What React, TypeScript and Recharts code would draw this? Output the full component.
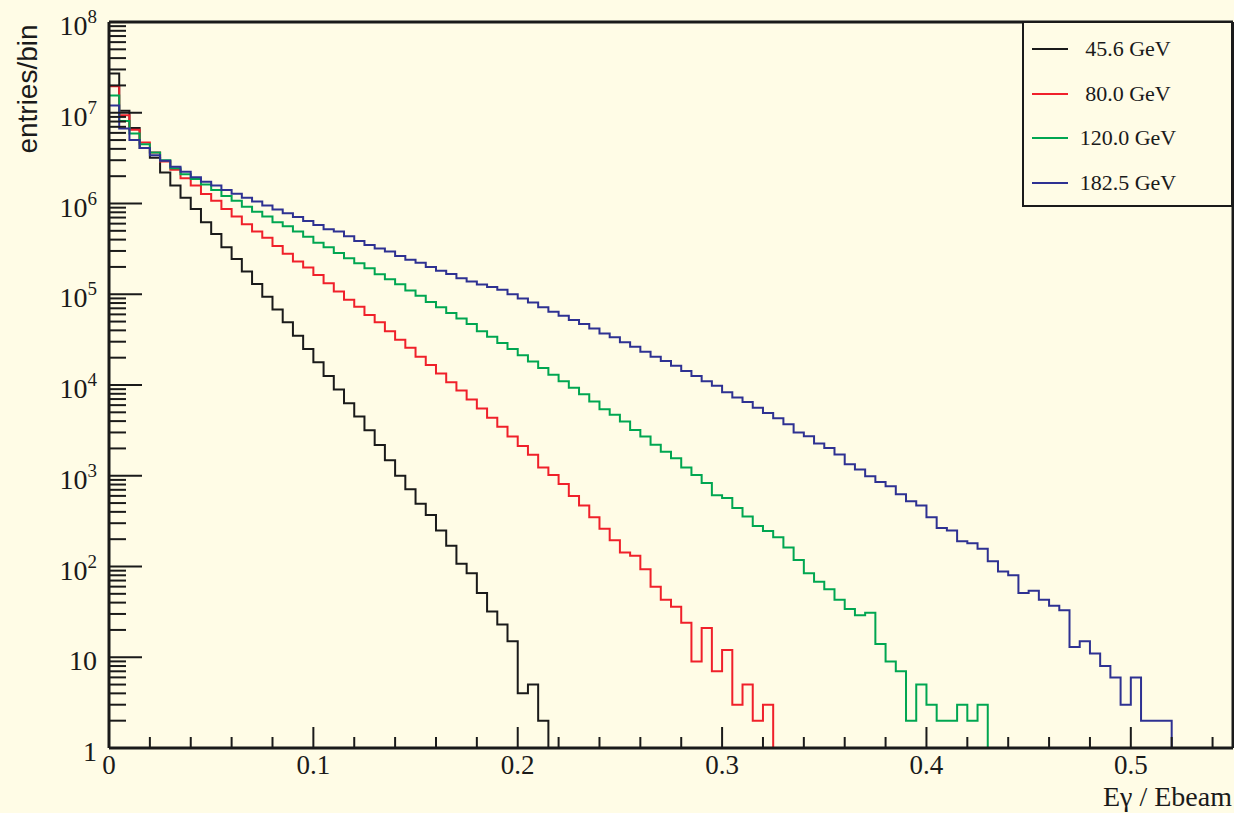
import React from 'react';
import { LineChart, Line, XAxis, YAxis, Legend, ReferenceLine } from 'recharts';

// page / frame colours
const BG = '#fffce6';
const INK = '#1a1a1a';

const BIN_WIDTH = 0.005;

// counts per bin of width 0.005
const COUNTS_45 = [
  2.7e7, 1.05e7, 6.8e6, 4.1e6, 3.2e6, 2.2e6, 1.58e6, 1.16e6, 8.7e5, 6.2e5,
  4.6e5, 3.3e5, 2.45e5, 1.78e5, 1.3e5, 9.4e4, 6.8e4, 4.9e4, 3.5e4, 2.5e4,
  1.78e4, 1.26e4, 8.9e3, 6.3e3, 4.5e3, 3.17e3, 2.18e3, 1.48e3, 1.0e3, 710,
  490, 370, 250, 169, 107, 84, 51, 32, 23, 15,
  4, 5, 2,
];

const COUNTS_80 = [
  1.96e7, 9.4e6, 6.5e6, 4.7e6, 3.65e6, 2.9e6, 2.35e6, 1.9e6, 1.58e6, 1.27e6,
  1.07e6, 8.7e5, 7.2e5, 5.9e5, 4.9e5, 4.2e5, 3.4e5, 2.8e5, 2.3e5, 1.97e5,
  1.63e5, 1.32e5, 1.07e5, 8.7e4, 7.3e4, 5.9e4, 4.9e4, 3.9e4, 3.15e4, 2.57e4,
  2.05e4, 1.66e4, 1.34e4, 1.07e4, 8.7e3, 6.9e3, 5.5e3, 4.35e3, 3.46e3, 2.7e3,
  2.13e3, 1.7e3, 1.23e3, 1.02e3, 810, 600, 470, 350, 260, 195,
  143, 131, 93, 60, 43, 36, 24, 9, 21, 7,
  12, 3, 5, 2, 3,
];

const COUNTS_120 = [
  1.55e7, 8.1e6, 5.9e6, 4.5e6, 3.65e6, 3.0e6, 2.45e6, 2.1e6, 1.86e6, 1.62e6,
  1.41e6, 1.21e6, 1.07e6, 9.2e5, 8.1e5, 7.2e5, 6.2e5, 5.6e5, 4.9e5, 4.3e5,
  3.7e5, 3.3e5, 2.85e5, 2.5e5, 2.2e5, 1.94e5, 1.66e5, 1.46e5, 1.29e5, 1.1e5,
  9.6e4, 8.2e4, 7.2e4, 6.2e4, 5.4e4, 4.7e4, 3.9e4, 3.4e4, 2.9e4, 2.5e4,
  2.13e4, 1.82e4, 1.54e4, 1.3e4, 1.1e4, 9.3e3, 7.9e3, 6.6e3, 5.4e3, 4.7e3,
  3.95e3, 3.2e3, 2.7e3, 2.2e3, 1.84e3, 1.56e3, 1.23e3, 1.02e3, 830, 610,
  570, 440, 355, 280, 246, 210, 162, 118, 84, 68,
  56, 43, 34, 29, 31, 14, 9, 7, 2, 5,
  3, 2, 2, 3, 2, 3,
];

const COUNTS_182 = [
  1.2e7, 6.7e6, 5.0e6, 4.1e6, 3.4e6, 2.95e6, 2.54e6, 2.24e6, 1.95e6, 1.74e6,
  1.58e6, 1.41e6, 1.28e6, 1.16e6, 1.05e6, 9.5e5, 8.6e5, 7.8e5, 7.1e5, 6.4e5,
  5.8e5, 5.2e5, 4.9e5, 4.37e5, 3.87e5, 3.5e5, 3.2e5, 2.95e5, 2.64e5, 2.4e5,
  2.23e5, 2.0e5, 1.81e5, 1.67e5, 1.5e5, 1.38e5, 1.28e5, 1.2e5, 1.12e5, 1.0e5,
  9.0e4, 8.1e4, 7.2e4, 6.4e4, 5.8e4, 5.2e4, 4.7e4, 4.2e4, 3.7e4, 3.35e4,
  2.95e4, 2.64e4, 2.33e4, 2.05e4, 1.84e4, 1.63e4, 1.43e4, 1.26e4, 1.1e4, 9.8e3,
  8.3e3, 7.3e3, 6.5e3, 5.6e3, 4.9e3, 4.3e3, 3.7e3, 3.0e3, 2.72e3, 2.26e3,
  2.02e3, 1.71e3, 1.34e3, 1.17e3, 990, 855, 765, 625, 525, 470,
  350, 265, 250, 190, 180, 157, 114, 88, 80, 51,
  54, 43, 37, 33, 13, 15, 11, 8, 6, 3,
  6, 2, 2, 2,
];

const SERIES = [
  { name: '45.6 GeV', color: '#1a1a1a', counts: COUNTS_45 },
  { name: '80.0 GeV', color: '#f0202a', counts: COUNTS_80 },
  { name: '120.0 GeV', color: '#00a651', counts: COUNTS_120 },
  { name: '182.5 GeV', color: '#2e3192', counts: COUNTS_182 },
];

const X_TICKS = [
  0, 0.02, 0.04, 0.06, 0.08, 0.1, 0.12, 0.14, 0.16, 0.18, 0.2, 0.22, 0.24, 0.26,
  0.28, 0.3, 0.32, 0.34, 0.36, 0.38, 0.4, 0.42, 0.44, 0.46, 0.48, 0.5, 0.52, 0.54,
];
const Y_DECADES = [1, 10, 1e2, 1e3, 1e4, 1e5, 1e6, 1e7, 1e8];
const Y_MINORS = [2, 3, 4, 5, 6, 7, 8, 9];
const Y_TICKS = [
  ...Y_DECADES,
  ...Y_DECADES.slice(0, -1).flatMap((d) => Y_MINORS.map((m) => m * d)),
].sort((a, b) => a - b);

// histogram outline: one point per bin low edge, then drop to the floor
const toSteps = (counts: number[]) => [
  ...counts.map((c, i) => ({ x: i * BIN_WIDTH, y: c })),
  { x: counts.length * BIN_WIDTH, y: 1 },
];

const YTick = (props: any) => {
  const { x, y, payload } = props;
  const v = payload.value;
  const exp = Math.round(Math.log10(v));
  const major = Math.abs(v - Math.pow(10, exp)) < 1e-6 * v;
  return (
    <g>
      <line x1={x} x2={x + (major ? 33 : 17)} y1={y} y2={y} stroke={INK} strokeWidth={2} />
      {major && (
        <text
          x={x - 12}
          y={y + 13}
          textAnchor="end"
          fontFamily="Liberation Serif, serif"
          fontSize={28}
          fill={INK}
        >
          {exp === 0 ? '1' : exp === 1 ? '10' : (
            <>
              <tspan>10</tspan>
              <tspan dy={-12} fontSize={19}>{exp}</tspan>
            </>
          )}
        </text>
      )}
    </g>
  );
};

const XTick = (props: any) => {
  const { x, y, payload } = props;
  const v = payload.value;
  const major = Math.abs(v * 10 - Math.round(v * 10)) < 1e-6;
  return (
    <g>
      <line x1={x} x2={x} y1={y} y2={y - (major ? 21 : 11)} stroke={INK} strokeWidth={2} />
      {major && (
        <text
          x={x}
          y={y + 26}
          textAnchor="middle"
          fontFamily="Liberation Serif, serif"
          fontSize={27}
          fill={INK}
        >
          {v === 0 ? '0' : v.toFixed(1)}
        </text>
      )}
    </g>
  );
};

const XTitle = () => (
  <text x={1232} y={806} textAnchor="end" fontFamily="Liberation Serif, serif" fontSize={28} fill={INK}>
    Eγ / Ebeam
  </text>
);

const YTitle = () => (
  <text
    x={37}
    y={89}
    transform="rotate(-90 37 89)"
    textAnchor="middle"
    fontFamily="Liberation Sans, Arial, sans-serif"
    fontSize={28}
    fill={INK}
  >
    entries/bin
  </text>
);

// legend drawn from SERIES so it keeps the plotting order
const LegendBox = () => (
  <div
    style={{
      width: 211,
      height: 186,
      boxSizing: 'border-box',
      border: `2.5px solid ${INK}`,
      background: BG,
      position: 'relative',
    }}
  >
    {SERIES.map((s, i) => (
      <div key={s.name} style={{ position: 'absolute', left: 0, top: 12 + i * 44.7, width: '100%', height: 28 }}>
        <div style={{ position: 'absolute', left: 8, top: 13, width: 36, height: 2, background: s.color }} />
        <div
          style={{
            position: 'absolute',
            left: 54,
            width: 100,
            textAlign: 'center',
            fontFamily: 'Liberation Serif, serif',
            fontSize: 22,
            lineHeight: '28px',
            color: INK,
            whiteSpace: 'nowrap',
          }}
        >
          {s.name}
        </div>
      </div>
    ))}
  </div>
);

export default function App() {
  return (
    <div style={{ position: 'absolute', left: 0, top: 0, width: 1234, height: 813, background: BG }}>
      <LineChart width={1234} height={813} margin={{ top: 22, right: 1, bottom: 0, left: 0 }}>
        <XAxis
          type="number"
          dataKey="x"
          domain={[0, 0.55]}
          ticks={X_TICKS}
          interval={0}
          allowDataOverflow
          height={65}
          tickSize={0}
          tickMargin={0}
          tickLine={false}
          tick={(p: any) => <XTick {...p} />}
          axisLine={{ stroke: INK, strokeWidth: 3 }}
          label={<XTitle />}
        />
        <YAxis
          type="number"
          scale="log"
          domain={[1, 1e8]}
          ticks={Y_TICKS}
          interval={0}
          allowDataOverflow
          width={109}
          tickSize={0}
          tickMargin={0}
          tickLine={false}
          tick={(p: any) => <YTick {...p} />}
          axisLine={{ stroke: INK, strokeWidth: 3 }}
          label={<YTitle />}
        />
        <ReferenceLine y={1e8} stroke={INK} strokeWidth={3} />
        <ReferenceLine x={0.55} stroke={INK} strokeWidth={3} />
        {SERIES.map((s) => (
          <Line
            key={s.name}
            name={s.name}
            data={toSteps(s.counts)}
            dataKey="y"
            type="stepAfter"
            stroke={s.color}
            strokeWidth={2}
            dot={false}
            activeDot={false}
            legendType="line"
            isAnimationActive={false}
          />
        ))}
        <Legend
          layout="vertical"
          align="center"
          verticalAlign="middle"
          width={211}
          height={186}
          wrapperStyle={{ left: 1022, top: 21, width: 211, height: 186 }}
          content={() => <LegendBox />}
        />
      </LineChart>
    </div>
  );
}
